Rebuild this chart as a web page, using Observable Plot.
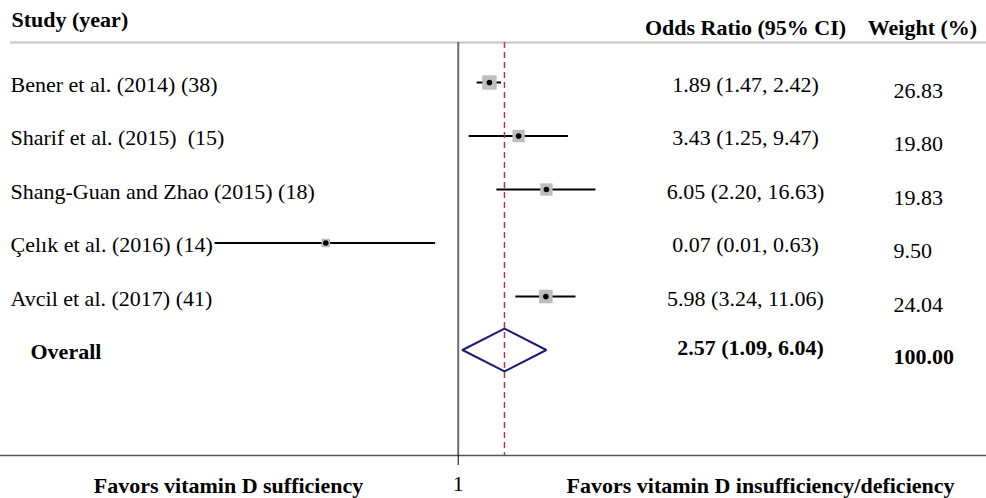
<!DOCTYPE html>
<html>
<head>
<meta charset="utf-8">
<script src="https://cdn.jsdelivr.net/npm/d3@7"></script>
<script src="https://cdn.jsdelivr.net/npm/@observablehq/plot@0.6"></script>
<style>
  html, body { margin: 0; padding: 0; background: #fff; }
  svg text { white-space: pre; }
</style>
</head>
<body>
<div id="chart"></div>
<script>
// ---- data ----
const studies = ["Bener et al. (2014) (38)", "Sharif et al. (2015)  (15)", "Shang-Guan and Zhao (2015) (18)", "Çelık et al. (2016) (14)", "Avcil et al. (2017) (41)"];
const oddsRatios = [1.89, 3.43, 6.05, 0.067, 5.98];
const ciLow = [1.47, 1.25, 2.20, 0.007, 3.24];
const ciHigh = [2.42, 9.47, 16.63, 0.63, 11.06];
const orLabels = ["1.89 (1.47, 2.42)", "3.43 (1.25, 9.47)", "6.05 (2.20, 16.63)", "0.07 (0.01, 0.63)", "5.98 (3.24, 11.06)"];
const weights = [26.83, 19.80, 19.83, 9.50, 24.04];
const weightLabels = ["26.83", "19.80", "19.83", "9.50", "24.04"];
const overallLabel = "Overall";
const overallOR = 2.57;
const overallLow = 1.09;
const overallHigh = 6.04;
const overallORLabel = "2.57 (1.09, 6.04)";
const overallWeightLabel = "100.00";
const headers = ["Study (year)", "Odds Ratio (95% CI)", "Weight (%)"];
const footers = ["Favors vitamin D sufficiency", "Favors vitamin D insufficiency/deficiency"];
const xTicks = [1];

// ---- build tables ----
const rows = studies.map((s, i) => ({
  i, study: s, or: oddsRatios[i], lo: ciLow[i], hi: ciHigh[i],
  orText: orLabels[i], w: weights[i], wText: weightLabels[i]
}));
const oi = studies.length; // overall row index
const diamond = [
  {x: overallLow, y: oi},
  {x: overallOR, y: oi - 0.4},
  {x: overallHigh, y: oi},
  {x: overallOR, y: oi + 0.4},
  {x: overallLow, y: oi}
];

const yDomain = [-0.7477, 6.972];
const serif = "'Liberation Serif', 'Times New Roman', Times, serif";

const plot = Plot.plot({
  width: 986,
  height: 498,
  marginTop: 42,
  marginBottom: 43,
  marginLeft: 0,
  marginRight: 0,
  style: {fontFamily: serif, fontSize: "22px", background: "#fff", color: "#000", overflow: "visible"},
  x: {type: "log", domain: [8.77e-5, 48100], axis: null},
  y: {domain: yDomain, reverse: true, axis: null},
  r: {type: "sqrt", domain: [0, 26.83], range: [0, 8.1]},
  marks: [
    // top separator
    Plot.ruleY([yDomain[0]], {stroke: "#c4c4c4", strokeWidth: 2, insetLeft: 10}),
    // bottom axis line
    Plot.ruleY([yDomain[1]], {stroke: "#555", strokeWidth: 1.5}),
    // no-effect line
    Plot.ruleX(xTicks, {stroke: "#6e6e6e", strokeWidth: 2}),
    // CI lines
    Plot.ruleY(rows, {y: "i", x1: "lo", x2: "hi", stroke: "#000", strokeWidth: 2}),
    // weight squares
    Plot.dot(rows, {x: "or", y: "i", symbol: "square", r: "w", fill: "#bdbdbd", stroke: null}),
    // point estimates
    Plot.dot(rows, {x: "or", y: "i", r: 2.8, fill: "#000", stroke: null}),
    // overall diamond
    Plot.line(diamond, {x: "x", y: "y", stroke: "#1c1c78", strokeWidth: 2, strokeLinejoin: "miter"}),
    // overall estimate dashed line
    Plot.ruleX([overallOR], {stroke: "#b03a48", strokeWidth: 1.5, strokeDasharray: "6,4"}),
    // x axis tick "1"
    Plot.axisX({ticks: xTicks, tickSize: 10, tickPadding: 9.5, tickFormat: d => String(d), fontSize: 22, stroke: "#000"}),
    // study labels
    Plot.text(rows, {y: "i", text: "study", frameAnchor: "left", dx: 10, dy: 2, textAnchor: "start", fill: "#000"}),
    Plot.text([overallLabel], {y: [oi], text: d => d, frameAnchor: "left", dx: 30, dy: 2, textAnchor: "start", fontWeight: "bold", fill: "#000"}),
    // OR labels
    Plot.text(rows, {y: "i", text: "orText", frameAnchor: "left", dx: 745, dy: 2, textAnchor: "middle", fill: "#000"}),
    Plot.text([overallORLabel], {y: [oi], text: d => d, frameAnchor: "left", dx: 750, dy: -2, textAnchor: "middle", fontWeight: "bold", fill: "#000"}),
    // weight labels
    Plot.text(rows, {y: "i", text: "wText", frameAnchor: "left", dx: 893, dy: 8, textAnchor: "start", fill: "#000"}),
    Plot.text([overallWeightLabel], {y: [oi], text: d => d, frameAnchor: "left", dx: 893, dy: 7, textAnchor: "start", fontWeight: "bold", fill: "#000"}),
    // headers
    Plot.text([headers[0]], {text: d => d, frameAnchor: "top-left", lineAnchor: "middle", dx: 11, dy: -23, textAnchor: "start", fontWeight: "bold", fill: "#000"}),
    Plot.text([headers[1]], {text: d => d, frameAnchor: "top-left", lineAnchor: "middle", dx: 745, dy: -15, textAnchor: "middle", fontWeight: "bold", fill: "#000"}),
    Plot.text([headers[2]], {text: d => d, frameAnchor: "top-left", lineAnchor: "middle", dx: 922, dy: -15, textAnchor: "middle", fontWeight: "bold", fill: "#000"}),
    // footers
    Plot.text([footers[0]], {text: d => d, frameAnchor: "bottom-left", lineAnchor: "middle", dx: 228, dy: 30, textAnchor: "middle", fontWeight: "bold", fill: "#000"}),
    Plot.text([footers[1]], {text: d => d, frameAnchor: "bottom-left", lineAnchor: "middle", dx: 760, dy: 30, textAnchor: "middle", fontWeight: "bold", fill: "#000"})
  ]
});
document.getElementById("chart").appendChild(plot);
</script>
</body>
</html>
